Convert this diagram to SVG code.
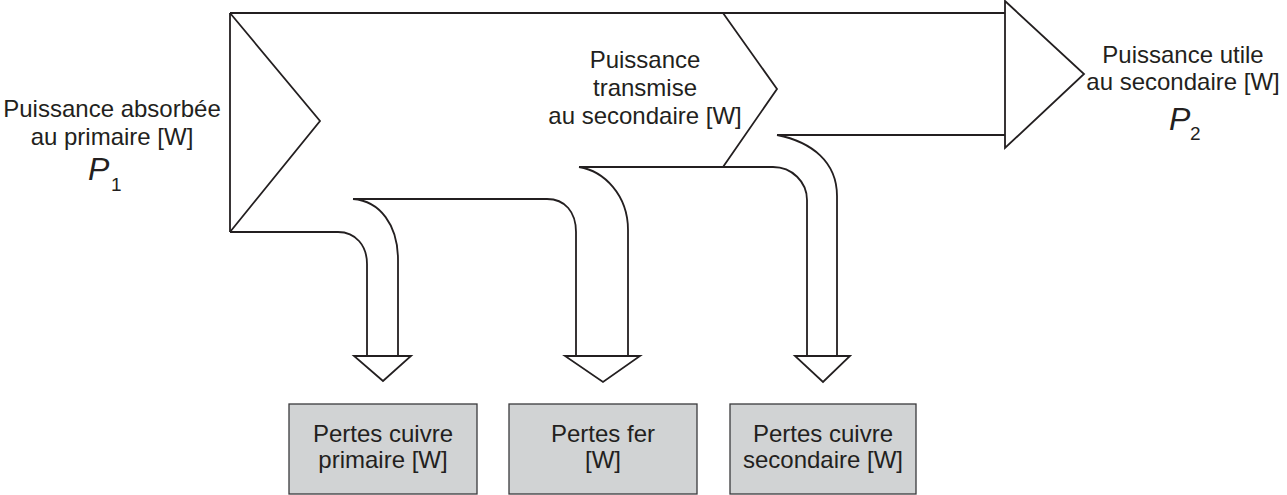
<svg xmlns="http://www.w3.org/2000/svg" width="1287" height="495" viewBox="0 0 1287 495">
<style>
  .ln { fill: none; stroke: #231f20; stroke-width: 1.8; stroke-linejoin: miter; }
  .head { fill: #ffffff; stroke: #231f20; stroke-width: 1.8; stroke-linejoin: miter; }
  .box { fill: #d1d3d4; stroke: #3a3a3c; stroke-width: 1.3; }
  .t { font-family: "Liberation Sans", Arial, sans-serif; font-size: 24px; fill: #231f20; text-anchor: middle; }
  .p { font-family: "Liberation Sans", Arial, sans-serif; font-size: 32px; font-style: italic; fill: #231f20; }
  .sub { font-family: "Liberation Sans", Arial, sans-serif; font-size: 19px; fill: #231f20; }
</style>
<rect width="1287" height="495" fill="#ffffff"/>

<g id="connectors">
  <!-- input block -->
  <path class="ln" d="M230,13 V232"/>
  <path class="ln" d="M230,13 L320,121 L230,232"/>
  <path class="ln" d="M230,13 H1005"/>
  <!-- loss arrow 1 (copper primary) -->
  <path class="ln" d="M230,232 H338 C356,232 367,246 367,264 V356"/>
  <path class="ln" d="M353,199 C380,201 398,225 398,260 V356"/>
  <!-- loss arrow 2 (iron) -->
  <path class="ln" d="M353,199 H547 C565,199 576,212 576,232 V356"/>
  <path class="ln" d="M579,167 C604,171 628,195 628,230 V356"/>
  <!-- transmitted chevron -->
  <path class="ln" d="M723,13 L777,89 L723,167"/>
  <!-- loss arrow 3 (copper secondary) -->
  <path class="ln" d="M579,167 H773 C792,167 807,182 807,200 V356"/>
  <path class="ln" d="M777,135 C812,142 837,162 837,196 V356"/>
  <path class="ln" d="M777,135 H1005"/>
  <!-- output arrow -->
  <path class="head" d="M1005,1 L1084,74 L1005,148 Z"/>
  <!-- arrowheads -->
  <path class="head" d="M354,356 H411 L383,381 Z"/>
  <path class="head" d="M565,356 H640 L603,382 Z"/>
  <path class="head" d="M795,356 H850 L823,382 Z"/>
</g>

<g id="input-label">
  <text class="t" x="112" y="117">Puissance absorbée</text>
  <text class="t" x="112" y="145">au primaire [W]</text>
  <text class="p" x="88" y="180">P</text>
  <text class="sub" x="111" y="191">1</text>
</g>

<g id="transmitted-label">
  <text class="t" x="645" y="68">Puissance</text>
  <text class="t" x="645" y="96">transmise</text>
  <text class="t" x="645" y="124">au secondaire [W]</text>
</g>

<g id="output-label">
  <text class="t" x="1183" y="63">Puissance utile</text>
  <text class="t" x="1183" y="90">au secondaire [W]</text>
  <text class="p" x="1169" y="130">P</text>
  <text class="sub" x="1190" y="140">2</text>
</g>

<g id="loss-copper-primary">
  <rect class="box" x="289" y="404" width="188" height="90"/>
  <text class="t" x="383" y="442">Pertes cuivre</text>
  <text class="t" x="383" y="468">primaire [W]</text>
</g>

<g id="loss-iron">
  <rect class="box" x="509" y="404" width="188" height="90"/>
  <text class="t" x="603" y="442">Pertes fer</text>
  <text class="t" x="603" y="468">[W]</text>
</g>

<g id="loss-copper-secondary">
  <rect class="box" x="730" y="404" width="186" height="90"/>
  <text class="t" x="823" y="442">Pertes cuivre</text>
  <text class="t" x="823" y="468">secondaire [W]</text>
</g>
</svg>
